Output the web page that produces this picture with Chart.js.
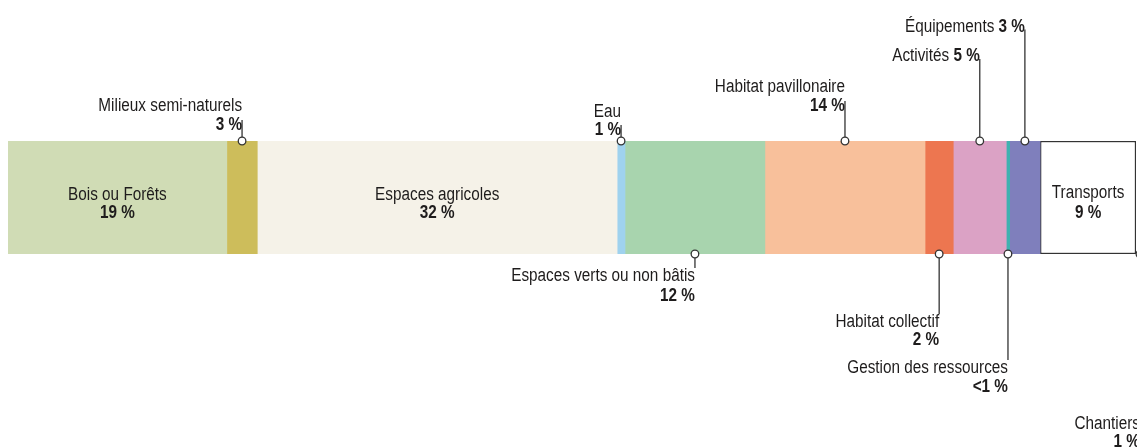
<!DOCTYPE html>
<html>
<head>
<meta charset="utf-8">
<script src="https://cdn.jsdelivr.net/npm/chart.js@4/dist/chart.umd.min.js"></script>
<style>
  html, body { margin: 0; padding: 0; background: #fff; }
  #wrap { width: 1137px; height: 448px; position: relative; }
</style>
</head>
<body>
<div id="wrap"><canvas id="occupation"></canvas></div>
<script>
// postes d'occupation du sol (part en %)
var categories = [
    'Bois ou Forêts', 'Milieux semi-naturels', 'Espaces agricoles', 'Eau',
    'Espaces verts ou non bâtis', 'Habitat pavillonaire', 'Habitat collectif',
    'Activités', 'Gestion des ressources', 'Équipements', 'Transports', 'Chantiers'
];
var values = [19.4, 2.7, 31.9, 0.7, 12.4, 14.2, 2.5, 4.7, 0.3, 2.7, 8.5, 0.7];
var pctLabels = ['19 %', '3 %', '32 %', '1 %', '12 %', '14 %', '2 %', '5 %', '<1 %', '3 %', '9 %', '1 %'];
var colors = [
    '#d0dcb5', '#cdbd5b', '#f5f2e8', '#9fd2ee', '#a8d4ae', '#f8c09b',
    '#ed7650', '#dba2c5', '#3fb1b0', '#7f7fbc', '#ffffff', '#bdbdbd'
];

// placement des étiquettes : in = dans la barre, up / down = avec trait de rappel
var labelPos = [
    { side: 'in',   nameY: 200,   pctY: 218 },
    { side: 'up',   nameY: 111,   pctY: 130 },
    { side: 'in',   nameY: 200,   pctY: 218 },
    { side: 'up',   nameY: 116.5, pctY: 135 },
    { side: 'down', nameY: 281,   pctY: 301 },
    { side: 'up',   nameY: 91.5,  pctY: 111 },
    { side: 'down', nameY: 327,   pctY: 345 },
    { side: 'upInline', nameY: 61 },
    { side: 'down', nameY: 373,   pctY: 392 },
    { side: 'upInline', nameY: 31.5 },
    { side: 'in',   nameY: 198,   pctY: 218 },
    { side: 'down', nameY: 429,   pctY: 447 }
];

var FONT = '"Liberation Sans", Arial, sans-serif';
var NARROW = 0.85;   // Arial -> façon Arial Narrow
var TXT = '#1e1c1c';
var LINE = '#333333';

// texte condensé horizontalement
function texte(ctx, s, x, y, align, bold) {
    ctx.save();
    ctx.font = (bold ? 'bold ' : '') + '18px ' + FONT;
    ctx.translate(x, y);
    ctx.scale(NARROW, 1);
    ctx.textAlign = align;
    ctx.fillText(s, 0, 0);
    var w = ctx.measureText(s).width * NARROW;
    ctx.restore();
    return w;
}

var etiquettes = {
    id: 'etiquettes',
    afterDatasetsDraw: function (chart) {
        var ctx = chart.ctx;
        ctx.save();
        ctx.textBaseline = 'alphabetic';
        for (var i = 0; i < categories.length; i++) {
            var bar = chart.getDatasetMeta(i).data[0];
            var cx = (bar.x + bar.base) / 2;
            var top = bar.y - bar.height / 2;
            var bottom = bar.y + bar.height / 2;
            var p = labelPos[i];
            var r = 3.8;

            ctx.fillStyle = TXT;
            if (p.side === 'in') {
                texte(ctx, categories[i], cx, p.nameY, 'center', false);
                texte(ctx, pctLabels[i], cx, p.pctY, 'center', true);
                continue;
            }

            // trait de rappel
            ctx.strokeStyle = LINE;
            ctx.lineWidth = 1.3;
            ctx.beginPath();
            if (p.side === 'up') {
                ctx.moveTo(cx, top - r);
                ctx.lineTo(cx, p.pctY - 10);
            } else if (p.side === 'upInline') {
                ctx.moveTo(cx, top - r);
                ctx.lineTo(cx, p.nameY - 2);
            } else {
                ctx.moveTo(cx, bottom + r);
                ctx.lineTo(cx, p.nameY - 13);
            }
            ctx.stroke();

            // petit cercle
            ctx.beginPath();
            ctx.arc(cx, p.side === 'down' ? bottom : top, r, 0, Math.PI * 2);
            ctx.fillStyle = '#ffffff';
            ctx.fill();
            ctx.stroke();

            // textes, alignés à droite sur le trait
            ctx.fillStyle = TXT;
            if (p.side === 'upInline') {
                var w = texte(ctx, pctLabels[i], cx, p.nameY, 'right', true);
                texte(ctx, categories[i] + ' ', cx - w, p.nameY, 'right', false);
            } else {
                texte(ctx, categories[i], cx, p.nameY, 'right', false);
                texte(ctx, pctLabels[i], cx, p.pctY, 'right', true);
            }
        }
        ctx.restore();
    }
};

var occupation = new Chart(
    document.getElementById('occupation').getContext('2d'), {
    type: 'bar',
    data: {
        labels: [''],
        datasets: categories.map(function (c, i) {
            return {
                label: c,
                data: [values[i]],
                backgroundColor: colors[i],
                borderColor: c === 'Transports' ? '#333333' : colors[i],
                borderWidth: c === 'Transports' ? 1.5 : 0,
                borderSkipped: false,
                categoryPercentage: 1,
                barPercentage: 1
            };
        })
    },
    options: {
        indexAxis: 'y',
        responsive: true,
        maintainAspectRatio: false,
        animation: false,
        layout: {
            padding: { left: 8, right: 1, top: 141, bottom: 194 }
        },
        plugins: {
            legend: { display: false },
            tooltip: { enabled: false }
        },
        scales: {
            x: { stacked: true, min: 0, max: 100, display: false },
            y: { stacked: true, display: false }
        }
    },
    plugins: [etiquettes]
});
</script>
</body>
</html>
